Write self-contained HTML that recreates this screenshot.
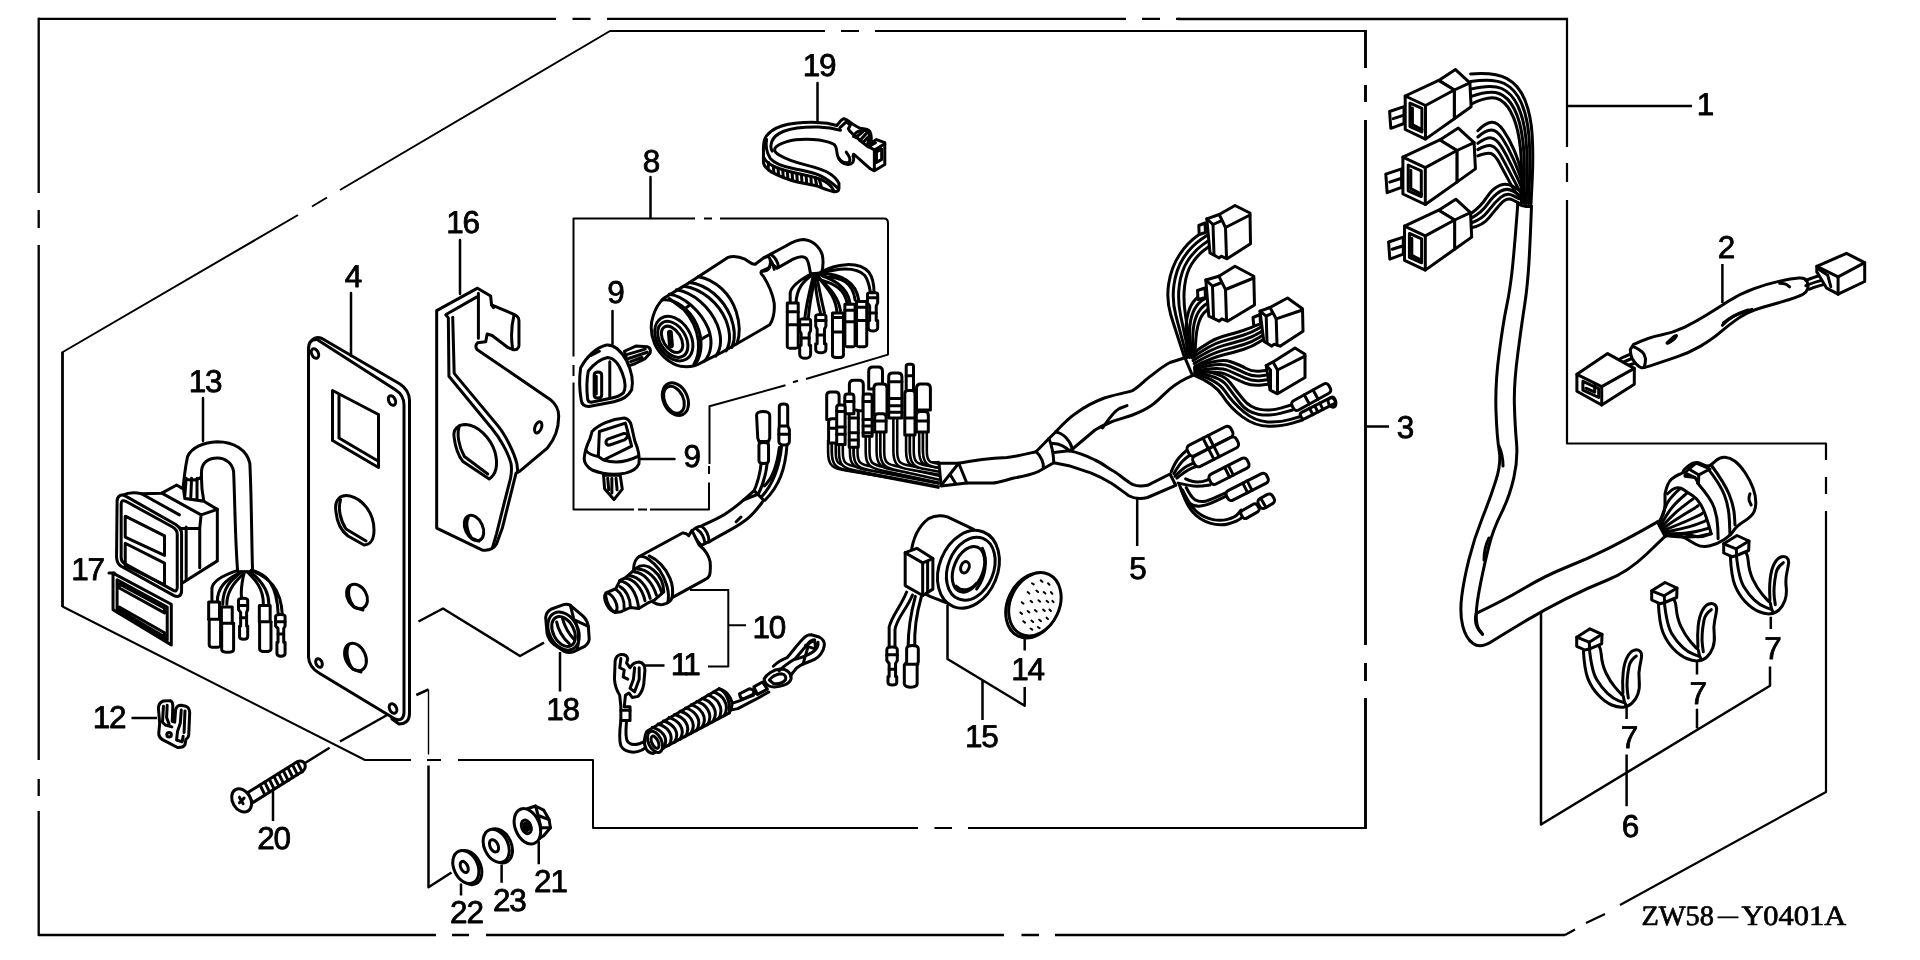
<!DOCTYPE html>
<html lang="en"><head><meta charset="utf-8"><title>ZW58-Y0401A parts diagram</title>
<style>
html,body{margin:0;padding:0;background:#fff;}
body{width:1920px;height:960px;overflow:hidden;}
svg{display:block;will-change:transform;}
svg text{text-rendering:geometricPrecision;}
svg text{font-family:"Liberation Sans",sans-serif;font-size:31.5px;fill:#000;stroke:#000;stroke-width:0.8px;letter-spacing:-1.2px;}
svg text.code{font-family:"Liberation Serif",serif;font-size:28px;letter-spacing:0;stroke-width:0.7px;}
.t{stroke-width:2.6}
.m{stroke-width:2}
.f{fill:#fff}
.k{fill:#000}
svg path,svg line,svg circle,svg ellipse,svg rect,svg polyline,svg polygon{vector-effect:non-scaling-stroke}
</style></head><body>
<svg width="1920" height="960" viewBox="0 0 1920 960" fill="none" stroke="#000" stroke-width="2.5" stroke-linecap="round" stroke-linejoin="round">
<rect x="0" y="0" width="1920" height="960" fill="#fff" stroke="none"/>
<!-- 00_frame.svg -->
<g id="frame-outer" stroke-width="2.3" stroke-linecap="butt">
<path d="M38 18.800H556M572.500 18.800H590.500M607 18.800H1126M1142 18.800H1160M1176 18.800H1180"/><path stroke-width="2.7" d="M1178 19H1568"/>
<path d="M38.700 17.800V193M38.700 210V228M38.700 245V760M38.700 779V796M38.700 811V936"/>
<path d="M38 935H436M452 935H469M486 935H1004M1021.500 935H1039M1055 935H1565"/>
</g>
<g id="frame-outer-right" stroke-width="2.2" stroke-linecap="butt">
<path d="M1567 18V147M1567 163V182M1567 200V443.500H1826V460M1826 477V494M1826 511V792L1620 905M1605 914L1586 923M1575 929.500L1565 935"/>
</g>
<g id="frame-inner" stroke-width="2" stroke-linecap="butt">
<path d="M609.500 31H825M841 31H859M875 31H1366"/>
<path d="M610 31L340 190M327 197.500L312 206.500M298 215L62 352.500M62.500 606.500L365 760H411M427 760H441M458 760H593V828H918M934.500 828H952M968 828H1366"/>
<path stroke-width="2.8" d="M62.500 351.800V607"/>
<path stroke-width="2.9" d="M1365.500 30V68M1365.500 85V102M1365.500 120V645M1365.500 663V681M1365.500 698V829"/>
</g>
<!-- 01_right.svg -->
<g id="p1" stroke-width="3"><path d="M1470.6 73.9Q1495.1 72 1507 78.6Q1519 85.2 1525 100.2Q1531 115.1 1532.2 135.5Q1533.4 155.9 1532.2 179.9L1531 203.8"/>
<path d="M1470.6 81.5Q1493.3 78 1504.3 83.5Q1515.4 89.1 1521.4 103Q1527.4 116.9 1529 136.4Q1530.5 155.9 1529.5 179.9L1528.6 203.8"/>
<path d="M1470.6 89.1Q1491.5 84 1501.7 88.5Q1511.8 93 1517.8 105.8Q1523.8 118.7 1525.8 137.3Q1527.7 155.9 1527 179.9L1526.2 203.8"/>
<path d="M1470.6 96.7Q1489.7 90 1499 93.5Q1508.2 96.9 1514.2 108.7Q1520.2 120.5 1522.5 138.2Q1524.8 155.9 1524.3 179.9L1523.8 203.8"/>
<path d="M1470.6 104.3Q1487.9 96 1496.2 98.3Q1504.6 100.7 1510.6 111.5Q1516.6 122.3 1519.2 139.1Q1521.9 155.9 1521.7 179.9L1521.4 203.8"/>
<path d="M1477.8 130.7Q1485.5 122.8 1491.5 122.3Q1497.4 121.8 1503.4 130.4Q1509.4 139.1 1514 149.9Q1518.5 160.7 1520.2 167.9L1521.9 175.1"/>
<path d="M1477.8 137Q1485.8 130.2 1491.3 130.1Q1496.9 130.1 1502.6 138.8Q1508.2 147.5 1512.8 157.8Q1517.5 168.2 1519.6 174.6L1521.7 181"/>
<path d="M1477.8 143.3Q1486.1 137.5 1491.2 137.9Q1496.3 138.3 1501.7 147.1Q1507 155.9 1511.7 165.8Q1516.4 175.7 1518.9 181.3L1521.4 187"/>
<path d="M1477.8 149.6Q1486.4 144.9 1491.1 145.7Q1495.7 146.5 1500.8 155.4Q1505.8 164.3 1510.5 173.7Q1515.3 183.1 1518.2 188.1L1521.2 193"/>
<path d="M1477.8 155.9Q1486.7 152.3 1490.9 153.5Q1495.1 154.7 1499.8 163.7Q1504.6 172.7 1509.4 181.6Q1514.2 190.6 1517.6 194.8L1520.9 199"/>
<path d="M1471.1 213.4Q1480.7 206.7 1486.7 197.4Q1492.7 188.2 1499.8 185.4Q1507 182.7 1513.2 186.6L1519.5 190.6"/>
<path d="M1471.1 218.2Q1481.5 212.9 1487.5 204.2Q1493.5 195.4 1500.2 191.4Q1507 187.5 1513.1 191.1L1519.2 194.7"/>
<path d="M1471.1 223Q1482.3 219.2 1488.3 210.9Q1494.3 202.6 1500.7 197.4Q1507 192.3 1513 195.6L1518.9 198.8"/>
<path d="M1471.1 227.8Q1483.1 225.4 1489.1 217.6Q1495.1 209.8 1501 203.4Q1507 197.1 1512.8 200L1518.5 202.9"/>
<path class="f" d="M1389.6 111.5 L1404 106.7 L1404 123.5 L1390.8 128.3 Z"/><path d="M1393.2 118.7 L1404 115.1"/><path class="f" d="M1438.7 80.4 L1455.5 69.6 L1469.9 82.8 L1471.1 106.7 L1454.3 118.7 L1454.3 90 Z"/><path d="M1454.3 90 L1469.9 82.8"/><path class="f" d="M1405.2 96 L1438.7 80.4 L1454.3 90 L1454.3 118.7 L1425.5 139.1 L1405.2 129.5 Z"/><path d="M1405.2 96 L1425.5 105.5 L1454.3 90"/><path d="M1425.5 105.5 L1425.5 139.1"/><path d="M1410 103.1 L1421.9 108.4 L1421.9 131.9 L1410 126.6 Z"/><path d="M1412.4 107.9 L1412.4 124.7 L1421.9 129.5"/>
<path class="f" d="M1385.8 174.2 L1401.6 168.9 L1401.6 187.4 L1387.1 192.7 Z"/><path d="M1389.7 182.1 L1401.6 178.2"/><path class="f" d="M1439.8 139.9 L1458.3 128.1 L1474.1 142.6 L1475.4 168.9 L1456.9 182.1 L1456.9 150.5 Z"/><path d="M1456.9 150.5 L1474.1 142.6"/><path class="f" d="M1402.9 157.1 L1439.8 139.9 L1456.9 150.5 L1456.9 182.1 L1425.3 204.5 L1402.9 194 Z"/><path d="M1402.9 157.1 L1425.3 167.6 L1456.9 150.5"/><path d="M1425.3 167.6 L1425.3 204.5"/><path d="M1408.2 165 L1421.3 170.8 L1421.3 196.6 L1408.2 190.8 Z"/><path d="M1410.8 170.3 L1410.8 188.7 L1421.3 194"/>
<path class="f" d="M1388.6 242 L1403.3 237.1 L1403.3 254.2 L1389.8 259.1 Z"/><path d="M1392.2 249.3 L1403.3 245.7"/><path class="f" d="M1438.7 210.2 L1455.8 199.2 L1470.5 212.7 L1471.7 237.1 L1454.6 249.3 L1454.6 220 Z"/><path d="M1454.6 220 L1470.5 212.7"/><path class="f" d="M1404.5 226.1 L1438.7 210.2 L1454.6 220 L1454.6 249.3 L1425.3 270.1 L1404.5 260.3 Z"/><path d="M1404.5 226.1 L1425.3 235.9 L1454.6 220"/><path d="M1425.3 235.9 L1425.3 270.1"/><path d="M1409.4 233.4 L1421.6 238.8 L1421.6 262.8 L1409.4 257.4 Z"/><path d="M1411.8 238.3 L1411.8 255.4 L1421.6 260.3"/>
<path class="f" stroke="none" d="M1517.8 203.8 L1514.2 251.8 L1510 290 L1503.3 321.7 L1495 384.2 L1497 438.3 L1501.3 463.3 L1490.8 496.7 L1474.2 538.3 L1463.8 580 L1459.6 613.3 L1465.8 638.3 L1480.4 648.75 L1503.3 634.2 L1545 609.2 L1586.7 588.3 L1628.3 571.7 L1665 536.3 L1657.5 521.9 L1628.3 538.3 L1586.7 559.2 L1545 575.8 L1503.3 600.8 L1476.25 613.3 L1484.6 563.3 L1492.9 530 L1509.6 496.7 L1518 459.2 L1515 425.8 L1513.75 384.2 L1522 321.7 L1527 290 L1529.8 251.8 L1531.5 206.2 Z"/>
<path d="M1517.8 203.8Q1514.2 251.8 1512.1 270.9Q1510 290 1506.7 305.9Q1503.3 321.7 1499.2 352.9Q1495 384.2 1496 411.2Q1497 438.3 1499.2 450.8Q1501.3 463.3 1496 480Q1490.8 496.7 1482.5 517.5Q1474.2 538.3 1469 559.1Q1463.8 580 1461.7 596.6Q1459.6 613.3 1462.7 625.8Q1465.8 638.3 1473.1 643.5Q1480.4 648.75 1491.8 641.5Q1503.3 634.2 1524.2 621.7Q1545 609.2 1565.8 598.8Q1586.7 588.3 1607.5 580Q1628.3 571.7 1646.7 554L1665 536.3"/>
<path d="M1531.5 206.2Q1529.8 251.8 1528.4 270.9Q1527 290 1524.5 305.9Q1522 321.7 1517.9 352.9Q1513.75 384.2 1514.4 405Q1515 425.8 1516.5 442.5Q1518 459.2 1513.8 477.9Q1509.6 496.7 1501.2 513.4Q1492.9 530 1488.8 546.6Q1484.6 563.3 1480.4 584.1Q1476.25 605 1476.2 615.4Q1476.25 625.8 1479.4 630L1482.5 634.2"/>
<path d="M1476.25 613.3Q1503.3 600.8 1524.2 588.3Q1545 575.8 1565.8 567.5Q1586.7 559.2 1607.5 548.8Q1628.3 538.3 1642.9 530.1L1657.5 521.9"/>
<path d="M1517.800 203.800Q1524 207.500 1531.500 206.200"/>
<path d="M1499 446Q1503 455 1503 466M1489 538Q1484 548 1484 560M1476.250 613.300Q1473 625 1482.500 634.200"/></g>
<g id="p6" stroke-width="3"><path class="f" d="M1665 493.8Q1667.5 482.5 1671.2 479.4Q1675 476.2 1679 474.5Q1683.1 472.8 1683.1 471.4Q1683.1 470 1689 465.3Q1695 460.6 1701.2 463.8Q1707.5 466.9 1710 465.4Q1712.5 463.8 1716.2 460.4Q1720 456.9 1725 457.2Q1730 457.5 1735 461.2Q1740 465 1745 472.5Q1750 480 1753 488.1Q1756 496.2 1755.8 503.1Q1755.6 510 1752.8 513.8Q1750 517.5 1743.1 521.9Q1736.2 526.2 1733.7 530.6Q1731.2 535 1724.3 539.4Q1717.5 543.8 1710 545.8Q1702.5 547.8 1696.2 544.5Q1690 541.2 1685 538.1Q1680 535 1673.8 534.4Q1667.5 533.8 1664.3 531.9Q1661.2 530 1659.7 526Q1658.1 521.9 1660.9 518.5Q1663.8 515 1664.4 510L1665 505 Z"/>
<path d="M1711.2 465Q1725 483.8 1729.4 495Q1733.8 506.2 1734.4 515.6L1735 525"/>
<path d="M1697.5 483.1Q1711.2 498.8 1714.3 508.1Q1717.5 517.5 1717.8 528.1L1718.1 538.8"/>
<path d="M1707.5 468.1Q1720 483.8 1724.4 495Q1728.8 506.2 1729.4 520.6L1730 535"/>
<path class="f" d="M1685 472.8 L1688.8 469 L1696.2 463.1 L1707.5 467.8 L1710 469 L1698.8 474.8 L1698.5 483.1 L1695 477.5 L1685 476.2 Z"/><path d="M1688.8 469 L1698.5 474.8"/><path d="M1685 472.8 L1695 477.5"/>
<path d="M1659.8 524Q1664.6 505.4 1670.1 498.9Q1675.6 492.5 1677.5 490.9L1679.4 489.4"/>
<path d="M1660.6 525.6Q1669.6 508.8 1676.7 502.3Q1683.7 495.8 1685.3 494.5L1686.9 493.1"/>
<path d="M1661.4 527.3Q1674 513.2 1682.2 507.1Q1690.4 501 1691.8 499.9L1693.1 498.8"/>
<path d="M1662.2 528.9Q1677.8 518.2 1686.9 512.8Q1696 507.4 1697 506.5L1698.1 505.6"/>
<path d="M1663 530.6Q1681.3 523.5 1691.1 519Q1700.9 514.5 1701.7 513.8L1702.5 513.1"/>
<path d="M1663.8 532.2Q1684.2 528.7 1694.4 525.1Q1704.6 521.5 1705.1 521L1705.6 520.6"/>
<path d="M1664.6 533.9Q1686.7 534 1697.2 531.3Q1707.6 528.6 1707.8 528.4L1708.1 528.1"/>
<path d="M1665.4 535.5Q1688.9 538.4 1699.5 536.1Q1710 533.8 1710 533.8L1710 533.8"/>
<path d="M1667.5 493.8Q1672.5 488.8 1676.2 487.9Q1680 486.9 1683.8 489.7Q1687.5 492.5 1692.5 495.6Q1697.5 498.8 1700.7 504.4Q1703.8 510 1706.3 517.5Q1708.8 525 1710 529.4L1711.2 533.8"/>
<path d="M1665 536.2Q1677.5 532.5 1683.8 533.8Q1690 535 1695 536.2Q1700 537.5 1705.6 535.6L1711.2 533.8"/>
<path d="M1750 493.8Q1748.1 498.8 1749.7 501.9L1751.2 505"/>
<path d="M1657.5 521.9L1665 536.2"/></g>
<g id="p7" stroke-width="3"><path class="f" d="M1583.3 648.8Q1584.3 669.7 1588 678.9Q1591.7 688 1598.3 695.1Q1605 702.2 1611.7 705Q1618.3 707.7 1623.3 707.2Q1628.3 706.7 1632 703.2Q1635.8 699.7 1637.9 693.9Q1640 688 1639.2 680.5Q1638.3 673 1639.8 666.4Q1641.2 659.7 1641.6 656.4Q1642 653 1639.8 651Q1637.5 649 1633.8 650.4Q1630 651.7 1627.1 657.4Q1624.2 663 1623.2 672.1Q1622.3 681.3 1622.8 688.8Q1623.3 696.3 1621.7 694.6Q1620 693 1615 687.1Q1610 681.3 1606 673Q1602 664.7 1601.2 654.2Q1600.3 643.8 1596 645.5L1591.7 647.2 Z"/><path d="M1636.3 656Q1630.3 660 1629 666.5Q1627.7 673 1627.2 679.6Q1626.7 686.3 1627.5 692.1L1628.3 698"/><path d="M1623.3 696.3Q1624.3 702.2 1625.5 704.1L1626.7 706"/><path d="M1589.3 648Q1591.7 671.3 1596.7 679.6Q1601.7 688 1607.5 693.4Q1613.3 698.8 1618.8 700.8L1624.2 702.7"/><path class="f" d="M1576.7 637.2 L1590 628.8 L1602 634.3 L1601.7 643.8 L1589.7 648.8 L1585 650 L1576.7 646.3 Z"/><path d="M1576.7 637.2 L1589.2 642.2 L1602 634.3"/><path d="M1589.2 642.2 L1589.7 648.8"/>
<path class="f" d="M1658.3 602.5Q1659.3 623.3 1663 632.5Q1666.7 641.7 1673.3 648.8Q1680 655.8 1686.7 658.5Q1693.3 661.3 1698.3 660.8Q1703.3 660.3 1707 656.8Q1710.8 653.3 1712.9 647.5Q1715 641.7 1714.2 634.2Q1713.3 626.7 1714.8 620Q1716.2 613.3 1716.6 610Q1717 606.7 1714.8 604.7Q1712.5 602.7 1708.8 604Q1705 605.3 1702.1 611Q1699.2 616.7 1698.2 625.9Q1697.3 635 1697.8 642.5Q1698.3 650 1696.7 648.4Q1695 646.7 1690 640.9Q1685 635 1681 626.6Q1677 618.3 1676.2 607.9Q1675.3 597.5 1671 599.1L1666.7 600.8 Z"/><path d="M1711.3 609.7Q1705.3 613.7 1704 620.2Q1702.7 626.7 1702.2 633.4Q1701.7 640 1702.5 645.9L1703.3 651.7"/><path d="M1698.3 650Q1699.3 655.8 1700.5 657.8L1701.7 659.7"/><path d="M1664.3 601.7Q1666.7 625 1671.7 633.4Q1676.7 641.7 1682.5 647.1Q1688.3 652.5 1693.8 654.4L1699.2 656.3"/><path class="f" d="M1651.7 590.8 L1665 582.5 L1677 588 L1676.7 597.5 L1664.7 602.5 L1660 603.7 L1651.7 600 Z"/><path d="M1651.7 590.8 L1664.2 595.8 L1677 588"/><path d="M1664.2 595.8 L1664.7 602.5"/>
<path class="f" d="M1730.3 555.5Q1731.3 576.3 1735 585.5Q1738.7 594.7 1745.3 601.8Q1752 608.8 1758.7 611.5Q1765.3 614.3 1770.3 613.8Q1775.3 613.3 1779 609.8Q1782.8 606.3 1784.9 600.5Q1787 594.7 1786.2 587.2Q1785.3 579.7 1786.8 573Q1788.2 566.3 1788.6 563Q1789 559.7 1786.8 557.7Q1784.5 555.7 1780.8 557Q1777 558.3 1774.1 564Q1771.2 569.7 1770.2 578.9Q1769.3 588 1769.8 595.5Q1770.3 603 1768.7 601.4Q1767 599.7 1762 593.9Q1757 588 1753 579.6Q1749 571.3 1748.2 560.9Q1747.3 550.5 1743 552.1L1738.7 553.8 Z"/><path d="M1783.3 562.7Q1777.3 566.7 1776 573.2Q1774.7 579.7 1774.2 586.4Q1773.7 593 1774.5 598.9L1775.3 604.7"/><path d="M1770.3 603Q1771.3 608.8 1772.5 610.8L1773.7 612.7"/><path d="M1736.3 554.7Q1738.7 578 1743.7 586.4Q1748.7 594.7 1754.5 600.1Q1760.3 605.5 1765.8 607.4L1771.2 609.3"/><path class="f" d="M1723.7 543.8 L1737 535.5 L1749 541 L1748.7 550.5 L1736.7 555.5 L1732 556.7 L1723.7 553 Z"/><path d="M1723.7 543.8 L1736.2 548.8 L1749 541"/><path d="M1736.2 548.8 L1736.7 555.5"/></g>
<g stroke-width="2.5" stroke-linecap="butt"><path d="M1541 612V824.500L1770 685.800V666.500M1626.600 705.300V719M1626.600 754.600V806.200M1697 660.600V674.400M1697 708.800V728.300M1770.800 616.700V629"/></g>
<text x="1629" y="747.500" text-anchor="middle">7</text><text x="1697.700" y="703.500" text-anchor="middle">7</text><text x="1772.500" y="659" text-anchor="middle">7</text><text x="1630" y="836.500" text-anchor="middle">6</text>
<g id="p2" stroke-width="3"><path d="M1620.5 358.5Q1629.4 354.5 1633.3 353.1L1637.3 351.6"/>
<path d="M1622.4 362.5Q1631.3 358.5 1635.3 357.5L1639.3 356.5"/>
<path d="M1626.4 366.4Q1633.3 363.5 1636.8 362.5L1640.2 361.5"/>
<path class="f" d="M1633.3 344.7Q1649.1 337.1 1661 335Q1672.9 332.8 1684.8 327.1Q1696.6 321.3 1706.5 315.1Q1716.4 309 1728.3 301.3Q1740.2 293.6 1754.1 288.6Q1767.9 283.7 1779.8 281.1Q1791.6 278.6 1798.5 278Q1805.5 277.4 1807 281.4Q1808.6 285.3 1807.6 288.8Q1806.6 292.2 1803 294.3Q1799.5 296.4 1788.7 299.8Q1777.8 303.1 1762.9 307.2Q1748.1 311.4 1738.2 318.4Q1728.3 325.3 1720.4 332.2Q1712.5 339.1 1700.6 346.1Q1688.7 353 1676.8 356.9Q1665 360.9 1654.6 364.4Q1644.2 368 1641.8 367.7Q1639.3 367.4 1635.3 362.9Q1631.3 358.5 1630.8 354.1L1630.3 349.6 Z"/>
<path d="M1633.3 346.6Q1642.2 350.6 1644.2 354.6Q1646.2 358.5 1645.2 362.9L1644.2 367.4"/>
<path d="M1667 343.1Q1672.9 336.7 1675.3 335.8Q1677.8 334.8 1675.3 337.8Q1672.9 340.7 1670.4 341.9L1667.9 343.1"/>
<path d="M1722.4 325.3Q1728.3 318.9 1734.2 315.9Q1740.2 313 1746.1 311.2L1752 309.4"/>
<path d="M1723.3 322.9Q1734.2 315 1741.2 312.5L1748.1 310"/>
<path d="M1779.7 283.3Q1785.7 283.7 1787.7 285.3L1789.6 286.9"/>
<path class="f" d="M1576.9 374.3 L1607.6 353.6 L1634.3 368.4 L1634.3 384.2 L1601.7 405 L1576.9 391.2 Z"/><path d="M1576.9 374.3 L1601.7 386.6 L1634.3 368.4"/><path d="M1601.7 386.6 L1601.7 405"/><path d="M1582.9 381.3 L1598.7 388.6 L1598.7 397.5 L1582.9 390.2 L1582.9 381.3"/><path d="M1585.8 388.2 L1594.7 392.1 L1594.7 385.2"/>
<path d="M1805.8 280.4Q1815.2 276.8 1819.9 275.5L1824.6 274.2"/>
<path d="M1805.8 285.6Q1816.2 281.5 1822 280.4L1827.7 279.2"/>
<path d="M1809 289.3Q1818.3 285.6 1823.5 284.6L1828.8 283.5"/>
<path class="f" d="M1816.8 266.4 L1846.5 253.3 L1864.7 262.7 L1864.7 281.5 L1838.1 294.2 L1826.7 288.2 L1818.3 274.2 L1816.8 272.1 Z"/><path d="M1816.8 266.4 L1838.1 276.8 L1864.7 262.7"/><path d="M1838.1 276.8 L1838.1 294.2"/><path d="M1818.3 269 L1827.7 275.2 L1830.8 286.7"/></g>
<g stroke-width="2.5" stroke-linecap="butt"><path d="M1722.400 264V303M1567 106H1692M1365 426.500H1389"/></g>
<text x="1726" y="258" text-anchor="middle">2</text><text x="1705" y="115" text-anchor="middle">1</text><text x="1405" y="437.500" text-anchor="middle">3</text>
<text class="code" x="1641.5" y="925"><tspan textLength="72.5" lengthAdjust="spacingAndGlyphs">ZW58</tspan><tspan x="1718" dy="-3.2" font-size="20" textLength="20" lengthAdjust="spacingAndGlyphs">—</tspan><tspan x="1741.4" dy="3.2" textLength="104.8" lengthAdjust="spacingAndGlyphs">Y0401A</tspan></text>
<!-- 04_plate.svg -->
<g id="p4" stroke-width="3">
<path class="f" d="M312 340Q316 336 322 338.500L400 384Q409 390 409.500 400V714Q409 724 399 724L392 719Z"/>
<path class="f" d="M308.500 349Q308.500 339 317 339.500L395 389.500Q404 395 404 405V713Q403 722 395 719L319 673Q309 667 308.500 657Z"/>
<ellipse cx="315" cy="353.500" rx="3.300" ry="5" transform="rotate(-25 315 353.500)"/>
<ellipse cx="392" cy="400.500" rx="3.300" ry="5" transform="rotate(-25 392 400.500)"/>
<ellipse cx="319" cy="663" rx="3" ry="4.500" transform="rotate(-25 319 663)"/>
<ellipse cx="393" cy="708.500" rx="3.500" ry="5" transform="rotate(-25 393 708.500)"/>
<path d="M332.500 390.500L378.500 414.500V467.500L332.500 440.500Z"/>
<path d="M339 395V438L378 461"/>
<!-- big D hole -->
<path d="M336 512C334 500 340 494 350 496C362 499 374 512 374 530C374 540 370 545 364 545L348 536C340 530 337 522 336 512Z"/>
<path d="M340.500 500C338 508 340 520 346 529L366 541"/>
<!-- small holes -->
<ellipse cx="357" cy="596.500" rx="9.500" ry="13" transform="rotate(-30 357 596.500)"/>
<path d="M350 586C347 592 349 601 354 607L363 610"/>
<ellipse cx="355.500" cy="657" rx="10" ry="14.500" transform="rotate(-25 355.500 657)"/>
<path d="M348.500 645C345.500 652 347.500 662 352.500 669L361 672"/>
</g>
<text x="353" y="287" text-anchor="middle">4</text>
<path d="M351 293V356"/>
<g id="p16" transform="translate(425,280) scale(0.2918)" stroke-width="3">
<path class="f" d="M40 105L180 28L225 55L228 85L305 118Q322 125 322 140V225Q320 242 300 238L285 232L230 190L213 185L208 212L180 215Q170 225 178 238L430 410Q460 435 458 470C458 510 440 550 420 575L325 655L312 662L290 750L265 850L245 905Q230 930 195 925L40 850Z"/>
<path d="M72 118L178 58M183 45V200"/>
<path d="M72 120L80 130L82 330L230 510C255 540 285 590 295 630C298 650 296 665 293 680L270 770L245 870L232 915"/>
<path d="M95 128L100 320L250 500C275 530 305 590 315 630L318 658"/>
<path d="M228 85L235 95M300 235C295 200 295 160 305 120"/>
<path d="M100 540C95 515 110 495 140 495C180 497 225 540 240 590C250 630 245 665 220 682L130 622C115 605 103 570 100 540Z"/>
<path d="M118 500C108 525 115 570 135 605L215 665"/>
<ellipse cx="168" cy="850" rx="30" ry="46" transform="rotate(-25 168 850)"/>
<path d="M148 815C138 835 145 865 160 885L185 895"/>
<ellipse cx="388" cy="505" rx="11" ry="20" transform="rotate(22 388 505)"/>
</g>
<text x="462.500" y="233" text-anchor="middle">16</text>
<path d="M460 240V294"/>
<!-- 05_harness.svg -->
<g id="p5-left" stroke-width="3"><path stroke-width="6.4" stroke-linecap="butt" d="M830 440L830 451.9C830 464.3 833.6 466.9 846 468.5L939.8 484"/><path stroke-width="1.3" stroke="#fff" stroke-linecap="butt" d="M830 440L830 451.9C830 464.3 833.6 466.9 846 468.5L939.8 484"/>
<path stroke-width="6.4" stroke-linecap="butt" d="M833.8 440L833.8 451.9C833.8 464.3 837.4 466.9 849.8 468.7L939.8 485.9"/><path stroke-width="1.3" stroke="#fff" stroke-linecap="butt" d="M833.8 440L833.8 451.9C833.8 464.3 837.4 466.9 849.8 468.7L939.8 485.9"/>
<path stroke-width="6.4" stroke-linecap="butt" d="M840.9 441.4L840.9 451.9C840.9 464.3 844.6 467 857 468.8L939.8 484.9"/><path stroke-width="1.3" stroke="#fff" stroke-linecap="butt" d="M840.9 441.4L840.9 451.9C840.9 464.3 844.6 467 857 468.8L939.8 484.9"/>
<path stroke-width="6.4" stroke-linecap="butt" d="M851.8 444.4L851.8 451.7C851.8 464.1 855.5 466.6 867.9 468.2L939.8 479.9"/><path stroke-width="1.3" stroke="#fff" stroke-linecap="butt" d="M851.8 444.4L851.8 451.7C851.8 464.1 855.5 466.6 867.9 468.2L939.8 479.9"/>
<path stroke-width="6.4" stroke-linecap="butt" d="M855.6 444.4L855.6 451.7C855.6 464.1 859.3 466.7 871.7 468.5L939.8 481.8"/><path stroke-width="1.3" stroke="#fff" stroke-linecap="butt" d="M855.6 444.4L855.6 451.7C855.6 464.1 859.3 466.7 871.7 468.5L939.8 481.8"/>
<path stroke-width="6.4" stroke-linecap="butt" d="M867.6 432.7L867.6 451.7C867.6 464.1 871.2 466.7 883.6 468.8L939.8 480.9"/><path stroke-width="1.3" stroke="#fff" stroke-linecap="butt" d="M867.6 432.7L867.6 451.7C867.6 464.1 871.2 466.7 883.6 468.8L939.8 480.9"/>
<path stroke-width="6.4" stroke-linecap="butt" d="M878.5 428.3L878.5 451.4C878.5 463.8 882.2 466.3 894.6 468L939.8 475.9"/><path stroke-width="1.3" stroke="#fff" stroke-linecap="butt" d="M878.5 428.3L878.5 451.4C878.5 463.8 882.2 466.3 894.6 468L939.8 475.9"/>
<path stroke-width="6.4" stroke-linecap="butt" d="M882.3 428.3L882.3 451.4C882.3 463.8 886 466.4 898.4 468.6L939.8 477.8"/><path stroke-width="1.3" stroke="#fff" stroke-linecap="butt" d="M882.3 428.3L882.3 451.4C882.3 463.8 886 466.4 898.4 468.6L939.8 477.8"/>
<path stroke-width="6.4" stroke-linecap="butt" d="M895.3 415.2L895.3 451.1C895.3 463.5 898.9 466 911.3 467.8L939.8 472.9"/><path stroke-width="1.3" stroke="#fff" stroke-linecap="butt" d="M895.3 415.2L895.3 451.1C895.3 463.5 898.9 466 911.3 467.8L939.8 472.9"/>
<path stroke-width="6.4" stroke-linecap="butt" d="M908 431.2L908 450.8C908 463.2 911.6 465.6 924 466.4L939.8 467.9"/><path stroke-width="1.3" stroke="#fff" stroke-linecap="butt" d="M908 431.2L908 450.8C908 463.2 911.6 465.6 924 466.4L939.8 467.9"/>
<path stroke-width="6.4" stroke-linecap="butt" d="M911.8 431.2L911.8 450.8C911.8 463.2 915.4 465.8 927.8 467.6L939.8 469.8"/><path stroke-width="1.3" stroke="#fff" stroke-linecap="butt" d="M911.8 431.2L911.8 450.8C911.8 463.2 915.4 465.8 927.8 467.6L939.8 469.8"/>
<path stroke-width="6.4" stroke-linecap="butt" d="M921.1 428.3L921.1 450.5C921.1 462.9 924.8 464.9 937.2 464.1L939.8 463.9"/><path stroke-width="1.3" stroke="#fff" stroke-linecap="butt" d="M921.1 428.3L921.1 450.5C921.1 462.9 924.8 464.9 937.2 464.1L939.8 463.9"/>
<path stroke-width="6.4" stroke-linecap="butt" d="M924.9 428.3L924.9 450.5C924.9 462.9 928.5 465.2 940.9 465.9L939.8 465.8"/><path stroke-width="1.3" stroke="#fff" stroke-linecap="butt" d="M924.9 428.3L924.9 450.5C924.9 462.9 928.5 465.2 940.9 465.9L939.8 465.8"/>
<path class="f" d="M868.7 389V371.24Q868.7 367.1 872.84 367.1H878.36Q882.5 367.1 882.5 371.24V389Z"/>
<path class="f" d="M906.2 390.4V366.39Q906.2 364.2 908.39 364.2H911.31Q913.5 364.2 913.5 366.39V390.4Z"/><path d="M906.2 375.8H913.5"/>
<path class="f" d="M904.8 434.9V393.46Q904.8 390.4 907.86 390.4H911.94Q915 390.4 915 393.46V434.9Z"/><path d="M904.8 418.1H915"/>
<path class="f" d="M888.7 418.1V376.86Q888.7 372.9 892.66 372.9H897.94Q901.9 372.9 901.9 376.86V418.1Z"/><path d="M888.7 381.7H901.9"/><path d="M888.7 398.4H901.9"/><path d="M888.7 405.7H901.9"/><path d="M888.7 412.3H901.9"/>
<path class="f" d="M849.4 410.8V384.37Q849.4 380.2 853.57 380.2H859.13Q863.3 380.2 863.3 384.37V410.8Z"/>
<path class="f" d="M849.2 447.3V412.83Q849.2 410.1 851.93 410.1H855.57Q858.3 410.1 858.3 412.83V447.3Z"/><path d="M849.2 418.1H858.3"/><path d="M849.2 432.7H858.3"/><path d="M849.2 440H858.3"/>
<path class="f" d="M844.8 413.7V396.83Q844.8 394.1 847.53 394.1H851.17Q853.9 394.1 853.9 396.83V413.7Z"/><path d="M844.8 401.4H853.9"/>
<path class="f" d="M826.7 419.6V395.62Q826.7 391.9 830.42 391.9H835.38Q839.1 391.9 839.1 395.62V419.6Z"/>
<path class="f" d="M828.6 442.9V422.07Q828.6 418.8 831.87 418.8H836.23Q839.5 418.8 839.5 422.07V442.9Z"/><path d="M828.6 428.3H839.5"/>
<path class="f" d="M836.7 444.4V407.52Q836.7 405 839.22 405H842.58Q845.1 405 845.1 407.52V444.4Z"/><path d="M836.7 411.6H845.1"/><path d="M836.7 426.9H845.1"/><path d="M836.7 434.2H845.1"/>
<path class="f" d="M863.1 436.3V396.8Q863.1 394.1 865.8 394.1H869.4Q872.1 394.1 872.1 396.8V436.3Z"/><path d="M863.1 401.4H872.1"/><path d="M863.1 419.6H872.1"/><path d="M863.1 426.1H872.1"/><path d="M863.1 432.7H872.1"/>
<path class="f" d="M873.9 414.5V387.83Q873.9 383.9 877.83 383.9H883.07Q887 383.9 887 387.83V414.5Z"/>
<path class="f" d="M874.7 432V417.12Q874.7 413.7 878.12 413.7H882.68Q886.1 413.7 886.1 417.12V432Z"/><path d="M874.7 421H886.1"/>
<path class="f" d="M916.5 410.1V388.07Q916.5 383.9 920.67 383.9H926.23Q930.4 383.9 930.4 388.07V410.1Z"/>
<path class="f" d="M916.3 432V415.2Q916.3 411.6 919.9 411.6H924.7Q928.3 411.6 928.3 415.2V432Z"/><path d="M916.3 421H928.3"/>
<path class="f" d="M939 463.3 L958.7 463.3 Q968.2 470.6 966.8 483 L941.2 485.9 Z"/>
<path d="M941.2 485.2 L958.7 463.3 M950 474.3 L955.8 483.7"/></g>
<g id="p5-trunk" stroke-width="3"><path class="f" d="M958.700 463.300C970 461 985 458.500 1007 457.500C1020 456 1030 453 1036 451.700L1049 438.500L1055.600 432C1062 425 1070 417 1076.300 413C1086 406 1096 401 1104.400 398C1114 394.500 1124 393.500 1132.500 390.600C1139 387 1145 380 1151.300 375.600C1157 371 1164 365.500 1170 362.500L1185 357.800L1192.500 375.600C1184 379 1176 384 1170 388.800C1163 395 1158 401 1151.300 405.600C1145 410 1138 413 1132.500 415C1124 418 1116 420 1110 422.500C1104 425 1100 427 1095 430L1072.500 449L1068.800 450.700C1078 452 1087 456 1095 460C1102 463 1108 468 1113.800 471.300C1120 475 1126 481 1132.500 484.400C1137 486.500 1142 486.500 1147.500 485.300L1170 474L1175.700 485.300L1147.500 497.500C1141 499 1134 498.500 1128.800 495.700C1122 491 1116 486 1110 482.500C1104 479 1097 475.500 1091.300 473.200L1068.800 465.700L1053.800 462.800L1038.800 471.300C1030 475 1022 476.500 1014 478C1006 480 998 483 992.300 483H966.800Z"/>
<path d="M1036 451.700C1041 456 1044 463 1043.300 467.700M1049 438.500C1052 446 1053.500 455 1053.800 462.800M1053.800 452.500L1068.800 450.700M1055.600 432C1063 433 1070 440 1072.500 449M1052 443.500C1059 443 1066 447 1069.500 451"/>
<path d="M1102.500 428C1108 420 1113 412 1119.400 408.500L1127 405.600"/></g>
<g id="p5-conn" stroke-width="3"><path d="M1184.5 357.5Q1175.5 330 1170.8 315Q1166.2 300 1168.7 283.8Q1171.2 267.5 1179.3 255Q1187.5 242.5 1198.8 234.8L1210 227"/>
<path d="M1187 357.5Q1179.7 330.4 1175.8 315.2Q1171.8 300 1174 284.6Q1176.2 269.2 1183.5 257.9Q1190.8 246.7 1200.6 239.8L1210.4 233"/>
<path d="M1189.5 357.5Q1183.8 330.8 1180.6 315.4Q1177.4 300 1179.3 285.4Q1181.2 270.8 1187.7 260.8Q1194.2 250.8 1202.5 244.9L1210.8 239"/>
<path d="M1192 357.5Q1188 331.2 1185.5 315.6Q1183 300 1184.6 286.2Q1186.2 272.5 1191.8 263.8Q1197.5 255 1204.3 250L1211.2 245"/>
<path d="M1188 355Q1185 330 1186.9 318.8Q1188.8 307.5 1193.8 301.2Q1198.8 295 1206.3 292.2L1213.8 289.5"/>
<path d="M1190.3 355.4Q1188.5 331.7 1190.5 321.2Q1192.5 310.8 1197.1 305.2Q1201.7 299.6 1208 297.4L1214.2 295.1"/>
<path d="M1192.7 355.8Q1192 333.3 1194.1 323.8Q1196.2 314.2 1200.4 309.2Q1204.6 304.2 1209.6 302.4L1214.6 300.7"/>
<path d="M1195 356.2Q1195.5 335 1197.8 326.2Q1200 317.5 1203.8 313.1Q1207.5 308.8 1211.2 307.5L1215 306.2"/>
<path d="M1191.2 355Q1210 340 1222.5 336.5Q1235 333 1243.8 330.2Q1252.5 327.5 1258.8 323.8L1265 320"/>
<path d="M1192.2 357.8Q1210.6 344.4 1222.8 341.1Q1235 337.8 1243.8 335Q1252.5 332.2 1258.9 328.3L1265.3 324.4"/>
<path d="M1193.1 360.6Q1211.2 348.8 1223.1 345.6Q1235 342.5 1243.8 339.8Q1252.5 337 1259 332.9L1265.6 328.8"/>
<path d="M1194.1 363.4Q1211.9 353.1 1223.5 350.1Q1235 347.2 1243.8 344.5Q1252.5 341.8 1259.2 337.5L1265.9 333.1"/>
<path d="M1195 366.2Q1212.5 357.5 1223.8 354.8Q1235 352 1243.8 349.2Q1252.5 346.5 1259.3 342L1266.2 337.5"/>
<path d="M1194.5 367.5Q1220 358 1230 361.5Q1240 365 1246.2 368.5Q1252.5 372 1261.2 371L1270 370"/>
<path d="M1194.7 369.3Q1219.2 362 1229.2 366Q1239.2 370 1245.8 373.4Q1252.5 376.8 1261.5 375.7L1270.4 374.6"/>
<path d="M1194.8 371.2Q1218.3 366 1228.3 370.5Q1238.3 375 1245.4 378.2Q1252.5 381.5 1261.7 380.4L1270.8 379.2"/>
<path d="M1195 373Q1217.5 370 1227.5 375Q1237.5 380 1245 383.1Q1252.5 386.2 1261.8 385L1271.2 383.8"/>
<path d="M1195 370Q1222.5 372.5 1230 382.5Q1237.5 392.5 1243.8 400Q1250 407.5 1260 409.4Q1270 411.2 1280.6 408.1L1291.2 405"/>
<path d="M1195 372.5Q1220 376.2 1226.9 385.6Q1233.8 395 1240.7 403.8Q1247.5 412.5 1258.8 414.4Q1270 416.2 1281.2 413.1L1292.5 410"/>
<path d="M1195 373.8Q1217.5 380 1225 391.2Q1232.5 402.5 1243.8 411.9Q1255 421.2 1267.5 421.9Q1280 422.5 1290.6 419.4L1301.2 416.2"/>
<path d="M1193.8 375Q1215 383.8 1222.5 395.6Q1230 407.5 1242.5 416.9Q1255 426.2 1268.8 426.2Q1282.5 426.2 1292.5 423.1L1302.5 420"/>
<path class="f" d="M1198.8 225.5 L1205 223 L1205.5 232.5 L1199.2 234.5 Z"/>
<path class="f" d="M1206.8 218.8 L1219.2 214.5 L1235 205.5 L1250 213 L1250.5 243.8 L1227 258.8 L1221.2 256.2 L1219.2 258 L1210 253 Z"/><path d="M1219.2 214.5 L1225.5 227.5 L1250 215"/><path d="M1225.5 227.5 L1226.5 257.5"/><path d="M1206.8 218.8 L1213 224.5 L1220.5 221.2"/><path d="M1213 224.5 L1214 254.5"/>
<path class="f" d="M1197.5 290.5 L1205 288 L1205.5 297.5 L1198 299.5 Z"/>
<path class="f" d="M1205.8 280 L1218.8 276.2 L1235 266.2 L1253.8 276.2 L1254.5 305 L1227.5 321.2 L1221.8 318.8 L1219.2 321.2 L1208.8 316.2 Z"/><path d="M1218.8 276.2 L1225.5 289.5 L1253.8 278"/><path d="M1225.5 289.5 L1226.5 320"/><path d="M1205.8 280 L1212.5 286.2 L1220.5 283"/><path d="M1212.5 286.2 L1213.5 317.5"/>
<path class="f" d="M1253 317.5 L1260 314.5 L1260.5 323.8 L1253.8 326.2 Z"/>
<path class="f" d="M1260 311.2 L1270 307.5 L1287.5 298 L1302.5 308.8 L1303 331.2 L1280 346.2 L1274.2 344.2 L1271.8 346.2 L1263.8 341.2 Z"/><path d="M1270 307.5 L1276.2 318.8 L1302.5 310"/><path d="M1276.2 318.8 L1277 345"/><path d="M1260 311.2 L1266.2 316.2 L1272.5 313"/><path d="M1266.2 316.2 L1267 342.5"/>
<path class="f" d="M1266.2 365.5 L1273 362 L1295 348 L1305 354.2 L1305 377.5 L1277.5 393.8 L1270 390 Z"/><path d="M1273 362 L1277.5 370 L1305 356.2"/><path d="M1277.5 370 L1277.5 392.5"/><path d="M1266.2 365.5 L1270.5 370 L1270.5 389.5"/></g>
<g id="p5-term-ur" stroke-width="3"><g transform="translate(1311.2 397) rotate(-29)"><rect class="f" x="-21" y="-5.25" width="42" height="10.5" rx="3.675" ry="3.675"/><path d="M-5.04 -5.25V5.25"/><path d="M5.04 -5.25V5.25"/></g>
<g transform="translate(1318 408) rotate(-27)"><rect class="f" x="-19" y="-3.5" width="38" height="7" rx="2.45" ry="2.45"/><path d="M-7.6 -3.5V3.5"/><path d="M-1.9 -3.5V3.5"/><path d="M3.8 -3.5V3.5"/></g>
<ellipse cx="1332" cy="402.5" rx="3.5" ry="5" transform="rotate(-27 1332 402.5)"/></g>
<g id="p5-term-lr" stroke-width="3"><path d="M1171.2 471.9Q1175 462.5 1178.8 458.1Q1182.5 453.8 1185.7 451.3L1188.8 448.8"/>
<path d="M1173.8 473.8Q1178.8 465 1182.5 461.2Q1186.2 457.5 1189.3 455.6L1192.5 453.8"/>
<path d="M1175 476.2Q1182.5 468.8 1186.8 466.3Q1191.2 463.8 1195 462.5L1198.8 461.2"/>
<path d="M1176.9 478.1Q1183.8 472.5 1188.2 470Q1192.5 467.5 1196.2 466.6L1200 465.6"/>
<path d="M1185.6 478.8Q1192.5 481.9 1197.5 481.9Q1202.5 481.9 1205.7 480.6L1208.8 479.4"/>
<path d="M1178.1 483.1Q1191.2 486.2 1196.8 486.2Q1202.5 486.2 1206.2 485.6L1210 485"/>
<path d="M1179.4 485Q1183.8 497.5 1188.2 501.9Q1192.5 506.2 1198.8 506.2Q1205 506.2 1215.6 501.2L1226.2 496.2"/>
<path d="M1186.2 487.5Q1191.2 497.5 1195 499.7Q1198.8 501.9 1203.2 501.5Q1207.5 501.2 1216.2 497.1L1225 493.1"/>
<path d="M1180.6 487.5Q1186.2 505 1193.1 512.5Q1200 520 1210 523.1Q1220 526.2 1228.8 523.7Q1237.5 521.2 1241.2 518.1L1245 515"/>
<path d="M1182.5 490Q1190 506.2 1196.9 511.9Q1203.8 517.5 1211.9 519.4Q1220 521.2 1227.5 519.4Q1235 517.5 1238.1 513.8L1241.2 510"/>
<g transform="translate(1210 441.2) rotate(-27)"><rect class="f" x="-24.375" y="-5.9375" width="48.75" height="11.875" rx="4.15625" ry="4.15625"/><path d="M-4.875 -5.9375V5.9375"/><path d="M0.975 -5.9375V5.9375"/></g>
<g transform="translate(1215.6 451.9) rotate(-27)"><rect class="f" x="-24.375" y="-5.9375" width="48.75" height="11.875" rx="4.15625" ry="4.15625"/><path d="M-4.875 -5.9375V5.9375"/><path d="M0.975 -5.9375V5.9375"/></g>
<g transform="translate(1229 471.2) rotate(-27)"><rect class="f" x="-21.25" y="-5.5" width="42.5" height="11" rx="3.85" ry="3.85"/><path d="M-2.125 -5.5V5.5"/><path d="M2.125 -5.5V5.5"/></g>
<g transform="translate(1247.2 486.9) rotate(-27)"><rect class="f" x="-22.5" y="-5.3125" width="45" height="10.625" rx="3.71875" ry="3.71875"/><path d="M-2.25 -5.3125V5.3125"/><path d="M2.7 -5.3125V5.3125"/></g>
<g transform="translate(1250 511.2) rotate(-30)"><rect class="f" x="-9.375" y="-4.375" width="18.75" height="8.75" rx="3.0625" ry="3.0625"/></g>
<g transform="translate(1266.2 501.2) rotate(-30)"><rect class="f" x="-8.125" y="-5.3125" width="16.25" height="10.625" rx="3.71875" ry="3.71875"/><path d="M-3.25 -5.3125V5.3125"/></g></g>
<path stroke-width="2.5" stroke-linecap="butt" d="M1137.200 498.500V546"/>
<text x="1137.500" y="579" text-anchor="middle">5</text>
<!-- 08_ignition.svg -->
<g id="box8" stroke-width="2" stroke-linecap="butt">
<path d="M573.500 356.500V218.500H695M704 218.500H712M720 218.500H884Q888 218.500 888 223V354.600L806 379M798 380.800L793 382.300M785.500 385.300L709.500 406.200V464M709 466V474M709 482.500V509.500H650M647 509.500H638M634 509.500H573.500V382.500M573.500 376V365"/>
</g>
<text x="651" y="172" text-anchor="middle">8</text>
<path d="M650.500 177V218"/>
<g id="p8" transform="translate(640,230) scale(0.14582)" stroke-width="3">
<!-- cable from switch -->
<path class="f" d="M850 190L1000 110C1040 85 1080 65 1120 65C1180 70 1230 110 1250 170C1260 220 1255 260 1245 295L1170 300C1160 260 1160 220 1140 195C1120 175 1090 180 1050 200L940 262Z"/>
<path d="M870 185C895 200 915 235 920 270M900 170C925 185 945 220 950 255"/>
<!-- body -->
<path class="f" d="M160 470L300 385L600 190C630 178 670 178 720 200C750 220 770 240 790 235L850 190L880 180C900 200 900 240 880 262L835 282C825 290 830 305 845 315C880 370 910 440 920 500C925 560 915 610 890 650L560 840L420 910C380 935 320 940 280 935C200 915 130 850 100 780C75 720 70 650 90 590C105 540 130 500 160 470Z"/>
<path d="M835 282C860 285 880 275 890 255"/>
<!-- ring arcs -->
<path d="M200 440C300 450 420 560 470 680C500 760 490 850 440 900"/>
<path d="M250 410C370 430 480 530 530 650C560 730 560 810 520 865"/>
<path d="M300 385C420 400 540 500 590 620C620 700 625 770 590 830"/>
<path d="M340 360C460 375 570 470 620 590C650 670 660 740 630 805"/>
<path d="M400 320C520 340 620 440 660 560C685 640 690 710 665 780"/>
<!-- hex nut + face -->
<path d="M150 480C240 470 340 540 390 650C430 740 430 850 380 920"/>
<path d="M200 470L300 545L335 520M300 545C350 600 390 680 400 760L470 720M400 760C405 820 395 880 370 920"/>
<ellipse cx="232" cy="745" rx="115" ry="165" transform="rotate(-32 232 745)"/>
<ellipse cx="225" cy="750" rx="88" ry="135" transform="rotate(-32 225 750)"/>
<ellipse cx="220" cy="750" rx="60" ry="100" transform="rotate(-32 220 750)"/>
<path d="M195 705C195 690 215 690 215 705L222 790C222 805 203 805 202 790Z"/>
<!-- wires -->
<path d="M1175 300C1100 340 1040 380 1030 430V500M1185 305C1120 350 1075 400 1070 500M1190 305C1170 400 1140 500 1130 610M1200 310C1200 400 1220 500 1240 580M1210 305C1260 380 1340 440 1350 560M1220 300C1320 340 1420 380 1440 500M1230 295C1350 300 1480 340 1500 480M1240 290C1340 230 1500 210 1570 290C1600 330 1605 380 1605 430M1245 300C1350 260 1480 250 1540 310C1570 350 1575 400 1580 430"/>
<path d="M1250 345C1330 370 1400 400 1420 500M1260 320C1380 320 1460 360 1475 480M1200 330C1180 420 1160 520 1155 600M1215 330C1230 420 1250 500 1265 570M1230 330C1290 390 1360 450 1375 555"/>
<!-- terminals -->
<path class="f" d="M1010 500H1085V800C1085 815 1010 815 1010 800Z"/><path d="M1010 560H1085M1010 650H1085"/>
<path class="f" d="M1095 620C1095 605 1170 605 1170 620V690L1160 710V790H1170V850C1170 890 1095 890 1095 850V790H1105V710L1095 690Z"/><path d="M1095 650H1170M1105 740H1160"/>
<path class="f" d="M1205 590C1205 575 1275 575 1275 590V660L1265 680V780H1275V820C1275 850 1205 850 1205 820V780H1215V680L1205 660Z"/><path d="M1205 620H1275M1215 720H1265"/>
<path class="f" d="M1320 570H1395V860C1395 880 1320 880 1320 860Z"/><path d="M1320 600H1395M1320 700H1395"/>
<path class="f" d="M1405 510H1475V790C1475 805 1405 805 1405 790Z"/><path d="M1405 550H1475M1405 630H1475"/>
<path class="f" d="M1485 490H1555V790C1555 805 1485 805 1485 790Z"/><path d="M1485 530H1555M1485 620H1555"/>
<path class="f" d="M1560 440C1560 425 1630 425 1630 440V500L1620 520V620H1630V670C1630 700 1565 700 1565 670V620H1575V520L1560 500Z"/><path d="M1560 465H1630M1575 570H1620"/>
</g>
<!-- 09_keys.svg -->
<g id="p9" transform="translate(565,320) scale(0.208333)" stroke-width="3">
<!-- key 1 blade -->
<path class="f" d="M285 150L340 125L395 128Q415 135 408 160L385 185L335 210L305 220Z"/>
<path d="M300 165L385 140M305 185L395 155M315 200L370 180"/>
<!-- key 1 head -->
<path class="f" d="M75 230C100 180 150 130 200 120C240 118 270 150 295 195C315 235 330 290 320 335C305 365 270 385 235 392L115 415C90 415 80 400 78 385C70 340 68 280 75 230Z"/>
<path d="M112 245C140 210 175 185 205 180C235 182 260 215 275 255C290 295 292 330 280 350C265 365 240 372 220 376L125 395C112 395 108 385 108 375C104 335 104 285 112 245Z"/>
<path d="M140 265Q140 250 158 250Q176 250 176 265V360Q176 375 158 375Q140 375 140 360Z"/>
<path d="M150 270V355M215 200V370M125 170L165 150"/>
<!-- o-ring -->
<ellipse cx="530" cy="380" rx="58" ry="82" transform="rotate(-25 530 380)"/>
<ellipse cx="523" cy="383" rx="45" ry="68" transform="rotate(-25 523 383)"/>
<!-- key 2 blade -->
<path class="f" d="M185 745L190 810L235 862L275 812L265 745Z"/>
<path d="M205 760L210 815M225 760V830M245 760L250 815"/>
<!-- key 2 head -->
<path class="f" d="M130 535C160 505 220 475 285 470Q310 475 318 505L335 580C350 615 360 650 355 690C345 715 320 728 290 735C240 745 180 740 130 720C105 705 92 690 92 665C95 630 105 600 120 570Z"/>
<path d="M165 535L290 495L320 605L185 672L160 655ZM185 672C240 690 300 680 350 655M160 655C130 650 110 640 100 625"/>
<path d="M205 572L280 545Q298 542 300 555Q300 568 285 575L215 600Q200 603 197 590Q195 578 205 572Z"/>
</g>
<text x="615.500" y="303" text-anchor="middle">9</text>
<path d="M612.500 311V344"/>
<text x="691.700" y="467" text-anchor="middle">9</text>
<path d="M641 459H674.500"/>
<!-- 10_stop.svg -->
<g id="p10" transform="translate(590,390) scale(0.23965)" stroke-width="3">
<!-- wires to terminals -->
<path d="M680 430C700 390 710 350 715 300M700 440C720 400 735 350 740 300M712 450C760 400 790 330 800 230M730 460C790 400 815 330 822 230M728 400C760 370 780 320 790 240"/>
<!-- terminals -->
<path class="f" d="M695 105C695 85 750 85 750 105V200L745 215H705L700 200Z"/>
<path class="f" d="M705 230C705 215 745 215 745 230V295C745 310 705 310 705 295Z"/>
<path class="f" d="M790 70C790 55 825 55 825 70V150L832 165V215C832 235 788 235 788 215V165L790 150Z"/>
<path d="M790 150H825M788 185H832"/>
<!-- cable -->
<path class="f" d="M440 590L470 565C510 545 540 535 575 510C620 480 650 450 685 420L725 460C700 495 670 530 640 550C600 580 550 600 495 635Z"/>
<path d="M610 550L630 530M640 460L700 435"/>
<path class="f" d="M425 590Q440 570 465 568Q495 590 497 632L465 648Q440 625 425 590Z"/>
<path d="M445 580Q475 600 480 640"/>
</g>
<g id="p10b" transform="translate(595,520) scale(0.1041667)" stroke-width="3">
<path class="f" d="M370 470C372 420 390 370 425 350L840 125Q870 120 900 150L930 100L1000 240C1050 280 1090 330 1105 400Q1112 480 1100 530Q1085 560 1060 570L740 745C730 780 700 800 650 812C610 815 580 805 560 790L480 700Z"/>
<path d="M520 345C600 380 680 460 720 560C745 620 750 690 740 745"/>
<path d="M425 350C480 340 560 400 620 480C680 570 720 690 700 790"/>
<!-- stem -->
<path class="f" d="M400 460C440 430 500 430 560 480C620 530 660 610 660 690L570 770L520 790L420 850L340 840L250 880L190 888C150 860 115 800 105 740Q100 715 105 700L200 660L240 580L290 555Z"/>
<ellipse cx="152" cy="792" rx="45" ry="98" transform="rotate(-27 152 792)"/>
<path d="M200 665C250 700 285 770 280 850M240 640C295 670 340 750 340 835M235 585C320 590 400 680 420 850M290 560C370 565 450 650 480 775M335 535C420 545 500 630 530 752M380 500C460 505 550 590 590 722M410 470C500 470 600 560 640 695"/>
</g>
<g stroke-width="2" stroke-linecap="butt">
<path d="M690 590H728.300V666.400H708M728.300 625.300H746"/>
</g>
<!-- 11_lanyard.svg -->
<g id="p18" transform="translate(520,560) scale(0.229226)" stroke-width="3">
<path class="f" d="M112 250Q115 225 135 215L190 195Q205 190 220 198L275 245Q295 265 298 290L302 345Q300 365 280 378L235 400Q215 408 195 400L150 370Q125 350 118 320Z"/>
<ellipse cx="190" cy="310" rx="62" ry="88" transform="rotate(-28 190 310)"/>
<ellipse cx="190" cy="312" rx="45" ry="70" transform="rotate(-28 190 312)"/>
<path d="M160 270C165 300 185 340 215 365M185 255C195 290 210 320 235 345M220 198L235 260L298 290M235 260C255 290 262 340 250 390"/>
</g>
<g id="p11" transform="translate(520,560) scale(0.229226)" stroke-width="3">
<!-- clip -->
<path class="f" d="M415 440Q420 415 440 412Q465 410 470 430L465 450L480 470Q495 445 520 445Q545 450 545 480L540 540Q535 575 515 595L490 600L475 580L460 590L455 640H480V700H440V640L435 590Q415 560 412 520Z"/>
<path d="M440 430L435 470L455 480L450 510L470 520M500 470L495 520L480 560L500 575L520 520V470M440 655H480"/>
<!-- wire down and to coil -->
<path d="M440 700C435 740 430 780 440 810C455 840 500 845 530 830L565 810M465 700C462 740 458 770 468 790C480 810 510 810 545 790"/>
</g>
<g id="p11c" transform="translate(600,625) scale(0.15625)" stroke-width="3">
<path class="f" d="M300 680L762 408C800 420 835 480 828 562L340 822C300 820 280 780 285 730Q288 700 300 680Z"/>
<path d="M335 655C390 670 450 720 405 790M371 634C426 649 485 701 440 771M406 614C461 629 520 682 476 752M442 593C497 608 556 663 511 733M477 573C532 588 591 644 546 714M513 552C568 567 626 625 581 695M548 532C604 546 662 606 616 676M584 511C639 526 697 587 652 657M620 490C675 505 732 568 687 638M655 470C710 485 767 549 722 619M691 449C746 464 802 530 758 600M726 429C781 444 838 511 793 581M762 408C817 423 873 492 828 562"/>
<ellipse class="f" cx="352" cy="748" rx="42" ry="72" transform="rotate(-25 352 748)"/>
<ellipse cx="352" cy="750" rx="20" ry="42" transform="rotate(-25 352 750)"/>
</g>
<g id="p11b" transform="translate(700,625) scale(0.114565)" stroke-width="3">
<path d="M285 682L350 660L450 612L525 575M255 745L330 730L480 652L600 585"/>
<path d="M345 600L430 557Q465 560 470 580L465 615L372 648Q350 640 345 600Z"/>
<path class="f" d="M470 540L545 497L588 560L502 606Z"/>
<!-- ring -->
<path d="M560 470C580 430 640 390 700 385C760 385 800 420 795 470C780 520 700 545 630 540C590 535 565 510 560 470Z"/>
<path d="M605 480C625 450 670 425 710 425C745 430 755 455 745 480C725 505 680 515 640 510Z"/>
<!-- clasp -->
<path d="M640 360C680 320 720 300 760 285C800 240 850 170 900 120Q930 85 970 85L1040 105Q1090 130 1085 180C1080 230 1040 280 1000 300C960 320 920 330 880 350C850 365 830 385 815 410L790 445"/>
<path d="M690 400C740 350 790 320 830 295C870 250 910 200 940 165Q960 135 985 130M830 300C880 285 940 265 985 235C1020 210 1035 180 1030 150M900 340L940 200M920 180L1000 130L1010 210Z"/>
</g>
<g stroke-width="2.5" stroke-linecap="butt">
<path d="M645 665.500H664.500"/>
<path d="M560 652V691.500"/>
<path d="M418.500 621.500L443 608.500L520 656L544 642.700"/>
</g>
<text x="768.700" y="637.500" text-anchor="middle">10</text>
<text x="684.5" y="674.500" text-anchor="middle" style="letter-spacing:-2.6px">11</text>
<text x="562.500" y="719.500" text-anchor="middle">18</text>
<!-- 12_20.svg -->
<g id="p12" transform="translate(80,680) scale(0.1875)" stroke-width="3">
<path class="f" d="M418 150Q420 120 445 112L480 110Q495 115 495 135L492 220L505 225L510 160Q515 135 540 135L565 140Q585 150 585 175L580 290Q578 310 565 315L560 345Q550 362 520 360L440 318Q420 305 420 285L425 230Z"/>
<path d="M445 140L440 225L455 240L490 250M465 135L462 200L475 235M540 160L535 230L520 275L515 320L545 330L550 300M560 165L555 280"/>
<circle cx="475" cy="292" r="12"/>
</g>
<g id="p20" transform="translate(80,680) scale(0.1875)" stroke-width="3">
<path class="f" d="M895 600L1160 435Q1185 425 1198 445Q1208 470 1190 485L920 655Z"/>
<path d="M960 560L985 610M985 545L1010 595M1010 530L1035 580M1035 515L1060 565M1060 500L1085 550M1085 485L1110 535M1110 470L1135 520M1135 455L1160 505M1160 440L1185 490"/>
<ellipse class="f" cx="862" cy="642" rx="48" ry="66" transform="rotate(-30 862 642)"/>
<path d="M850 625L870 660M875 630L850 655"/>
</g>
<g stroke-width="2.5" stroke-linecap="butt">
<path d="M131.500 718H157"/>
<path d="M273 791V821"/>
<path d="M304.600 763.300L329.600 747.700M340 741.500L388 714.500"/>
</g>
<text x="109" y="728" text-anchor="middle">12</text>
<text x="273.500" y="849" text-anchor="middle">20</text>
<!-- 13_switch.svg -->
<g id="p13" transform="translate(90,420) scale(0.27094)" stroke-width="3">
<!-- cable loop -->
<path class="f" d="M340 290C345 230 350 180 360 135C375 100 420 82 470 80C530 80 580 110 590 160C596 280 596 420 600 560L545 560C535 430 535 300 530 190C525 160 500 140 470 140C440 140 415 155 412 185C410 220 412 260 420 300Z"/>
<path d="M355 215L350 280M375 215L372 285M395 215L395 290M350 215C365 225 395 225 412 210"/>
<!-- body -->
<path class="f" d="M120 278C140 268 170 268 190 272L265 270L320 240L345 255L350 290L420 300L470 330V520L335 605V400Z"/>
<path d="M265 270L410 350L470 330M410 350L405 400V545M335 400L405 400M355 395V590M190 272L330 350"/>
<!-- front face -->
<path class="f" d="M100 300C100 280 115 272 130 280L315 385C330 395 338 405 338 420V630C338 650 325 655 310 648L115 540C102 532 98 522 98 505Z"/>
<path d="M115 310C115 298 122 295 132 300L305 395C318 403 322 410 322 422V618C322 630 316 634 306 628L128 530C118 524 115 518 115 508Z"/>
<path d="M130 355L275 428V500L130 432ZM130 455L275 528V608L130 538Z"/>
<!-- wires fan -->
<path d="M545 555C500 570 455 590 450 620V670M560 560C520 590 490 620 490 680M570 560C560 600 555 630 560 660M580 560C610 590 640 620 640 680M595 555C660 580 705 620 710 720M600 555C650 570 690 600 695 720"/>
<path d="M470 670C470 620 500 590 550 565M505 680C505 640 530 600 565 570M660 680C660 630 630 590 590 560"/>
<!-- terminals -->
<path class="f" d="M438 672H478V735H482V830C482 842 440 842 440 830V735H438Z"/>
<path d="M438 735H482"/>
<path class="f" d="M485 690H525V750H530V848C530 860 486 860 486 848V750H485Z"/>
<path d="M485 750H530"/>
<path class="f" d="M548 665C548 655 582 655 582 665V700L578 710V760H582V800C582 812 552 812 552 800V760H556V710L548 700Z"/>
<path d="M548 685H582M556 730H578"/>
<path class="f" d="M625 685H665V745H668V845C668 858 626 858 626 845V745H625Z"/>
<path d="M625 745H668"/>
<path class="f" d="M685 725C685 715 720 715 720 725V760L715 770V820H720V862C720 875 690 875 690 862V820H694V770L685 760Z"/>
<path d="M685 745H720M694 790H715"/>
</g>
<g id="p17" transform="translate(90,420) scale(0.27094)" stroke-width="3">
<path class="f" d="M85 565L300 680V830L85 700Z"/>
<path d="M100 590L285 690V812L100 708Z"/>
<path d="M108 605L275 695V712L108 620ZM108 690L275 785V800L108 702Z"/>
<path d="M70 565H90"/>
</g>
<text x="205" y="392" text-anchor="middle">13</text>
<path d="M203 398V441"/>
<text x="87.5" y="579.5" text-anchor="middle">17</text>
<!-- 15_buzzer.svg -->
<g id="p15" transform="translate(860,490) scale(0.29151)" stroke-width="3">
<!-- wires -->
<path d="M160 350C140 400 110 430 100 470V545M180 360C160 410 125 440 120 480V545M190 365C175 420 165 470 165 540M210 368C195 420 185 470 188 540"/>
<!-- terminals -->
<path class="f" d="M92 548C92 535 128 535 128 548V585L122 595V640H126V660C126 672 96 672 96 660V640H100V595L92 585Z"/>
<path d="M92 565H128M100 615H122"/>
<path class="f" d="M160 545C160 530 200 530 200 545V590L196 600V665C196 680 152 680 152 665V600L160 590Z"/>
<path d="M156 598H198"/>
<!-- body -->
<path class="f" d="M390 135L300 92Q265 82 235 98C200 125 180 170 175 220L180 300Q200 350 240 365L330 400Z"/>
<!-- connector block -->
<path class="f" d="M155 215L195 200L250 235V340L215 362L155 328Z"/>
<path d="M155 215L215 250L250 235M215 250V362M232 245V350"/>
<!-- front face -->
<ellipse class="f" cx="372" cy="272" rx="100" ry="138" transform="rotate(22 372 272)"/>
<ellipse cx="380" cy="270" rx="78" ry="112" transform="rotate(22 380 270)"/>
<ellipse cx="372" cy="272" rx="50" ry="82" transform="rotate(22 372 272)"/>
<ellipse cx="360" cy="265" rx="14" ry="20" transform="rotate(22 360 265)"/>
<path d="M330 330C350 350 380 345 400 320M420 200C440 240 430 300 400 340"/>
</g>
<g id="p14" transform="translate(860,490) scale(0.29151)" stroke-width="3">
<ellipse class="f" cx="592" cy="396" rx="86" ry="116" transform="rotate(25 592 396)"/>
<ellipse class="f" cx="600" cy="392" rx="84" ry="113" transform="rotate(25 600 392)"/>
<g stroke-width="2">
<path d="M590 320l6 4M620 310l6 5M645 320l5 5M655 350l5 6M575 350l6 5M605 345l6 5M630 350l6 5M555 385l6 5M585 380l6 5M612 378l6 5M640 380l6 5M660 380l4 5M550 420l6 5M575 415l6 5M600 412l6 5M628 410l6 5M650 410l5 5M560 450l6 5M588 448l6 5M615 445l6 5M640 438l5 5M585 475l6 4M610 470l6 4"/>
</g>
</g>
<g stroke-width="2.5" stroke-linecap="butt">
<path d="M947.500 605V659L1024.700 705.700V687M982.500 681V720"/>
<path d="M1024.700 638.700V650.500"/>
</g>
<text x="1027.600" y="679.500" text-anchor="middle">14</text>
<text x="981.300" y="746.500" text-anchor="middle">15</text>
<!-- 19_tie.svg -->
<g id="p19" transform="translate(740,100) scale(0.1041667)" stroke-width="3">
<path class="f" d="M930 245C870 225 800 215 740 215C620 212 480 225 400 250C340 270 280 310 250 350C225 390 225 430 225 470V600C230 640 260 665 300 690C380 735 480 770 560 790C640 808 700 812 750 830C800 850 860 875 900 880C930 882 950 875 950 850V800C930 760 900 730 860 705C800 665 700 640 620 620C540 600 440 565 380 530C345 510 325 490 335 465C350 435 400 415 450 400C520 380 620 375 700 380C780 385 850 400 900 425C925 440 925 470 930 500C935 540 945 570 975 595C1000 615 1040 625 1070 610C1095 595 1095 560 1085 540L1090 520C1140 560 1200 620 1250 660L1290 680L1390 620V410L1310 380L1250 420C1265 380 1265 340 1245 300C1220 270 1180 275 1150 270C1120 255 1090 235 1060 215C1040 200 1020 185 1000 180C980 180 965 200 950 220Z"/>
<path d="M965 290C900 272 820 262 750 260C640 258 500 270 420 300C370 320 320 360 305 400C295 430 295 470 310 490"/>
<path d="M255 380C245 430 255 500 290 560C330 610 420 640 520 660C620 680 700 690 780 730C840 760 900 810 945 850"/>
<path d="M225 545C240 580 270 610 320 635C400 675 520 700 620 720C700 735 760 750 810 780C850 800 880 830 900 870"/>
<path d="M275 600L270 660M320 635L325 695M365 655L370 715M410 672L415 735M455 688L460 752M500 700L505 765M545 710L550 778M590 720L595 790M635 728L640 800M680 735L685 808M722 745L735 815M760 760L780 830"/>
<path d="M960 265L1020 210L1060 240L1040 275C1050 310 1080 320 1100 340C1140 380 1180 410 1230 450L1300 410"/>
<path d="M1090 350C1100 320 1130 300 1160 295C1190 290 1220 295 1235 310C1245 340 1240 380 1225 420"/>
<path d="M1110 360L1180 305M1150 390L1215 320M1180 410L1225 360"/>
<path d="M1240 450L1290 480V670M1290 480L1390 420M1310 500V600L1360 570V470Z"/>
<path d="M950 560C970 590 1000 610 1040 600C1060 590 1060 560 1040 530L1020 500"/>
</g>
<text x="819" y="76" text-anchor="middle">19</text>
<path d="M817.500 83V123"/>
<!-- 21_23.svg -->
<g id="p22" transform="translate(400,680) scale(0.271)" stroke-width="3">
<ellipse class="f" cx="252" cy="692" rx="46" ry="66" transform="rotate(-25 252 692)"/>
<ellipse class="f" cx="243" cy="690" rx="44" ry="64" transform="rotate(-25 243 690)"/>
<ellipse cx="237" cy="690" rx="13" ry="22" transform="rotate(-25 237 690)"/>
</g>
<g id="p23" transform="translate(400,680) scale(0.271)" stroke-width="3">
<ellipse class="f" cx="365" cy="612" rx="46" ry="66" transform="rotate(-25 365 612)"/>
<ellipse class="f" cx="355" cy="612" rx="44" ry="64" transform="rotate(-25 355 612)"/>
<ellipse cx="347" cy="612" rx="15" ry="24" transform="rotate(-25 347 612)"/>
</g>
<g id="p21" transform="translate(400,680) scale(0.271)" stroke-width="3">
<path class="f" d="M470 475L500 465L530 480L550 515L555 545L530 575L490 600L450 560L440 500Z"/>
<path d="M500 465L510 500L550 515M510 500L520 545L555 545M520 545L515 585"/>
<ellipse class="f" cx="470" cy="540" rx="45" ry="68" transform="rotate(-22 470 540)"/>
<ellipse cx="466" cy="542" rx="17" ry="26" transform="rotate(-22 466 542)"/>
<ellipse cx="466" cy="542" rx="8" ry="14" transform="rotate(-22 466 542)" class="k"/>
</g>
<g stroke-width="2.5" stroke-linecap="butt">
<path d="M416.300 695L428.500 689.500M428.500 765.500V887.300L451.500 872.500"/><path stroke-width="1.4" d="M428.500 689.500V754.500"/>
<path d="M461 883.500V895.500M501.600 864.500V882.700M538.750 841.200V864.300"/>
</g>
<text x="466.400" y="923" text-anchor="middle">22</text>
<text x="509.300" y="910.500" text-anchor="middle">23</text>
<text x="550.400" y="892" text-anchor="middle">21</text>
</svg>
</body></html>
